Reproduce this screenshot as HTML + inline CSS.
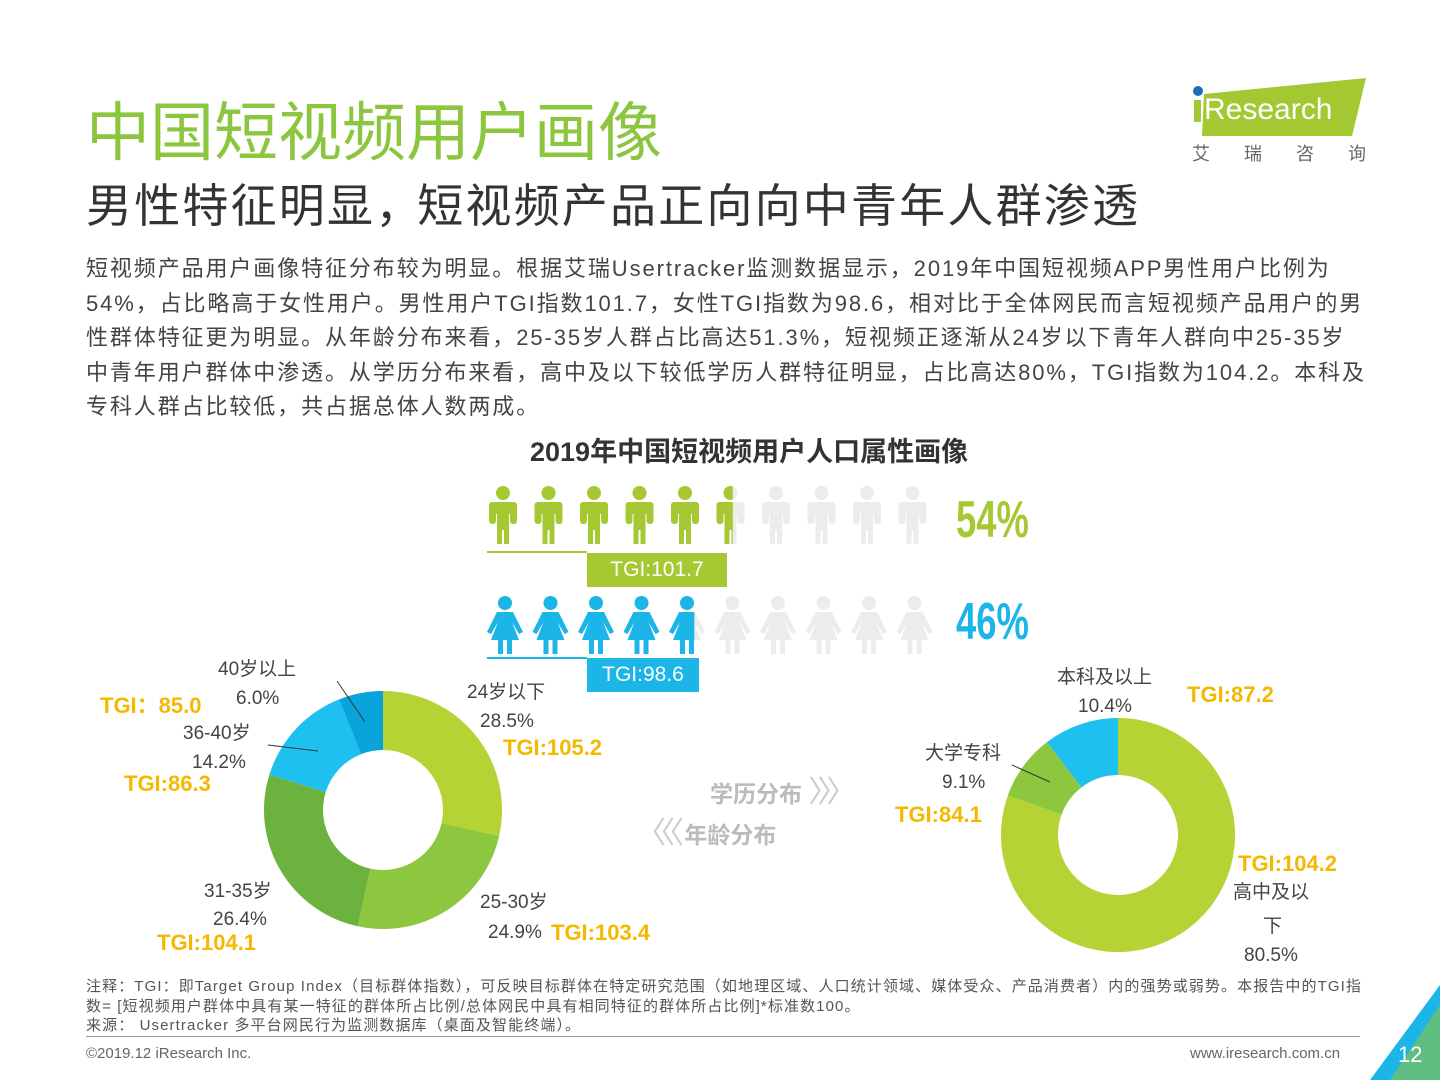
<!DOCTYPE html>
<html><head><meta charset="utf-8">
<style>
body{margin:0;width:1440px;height:1080px;background:#fff;position:relative;overflow:hidden;font-family:"Liberation Sans","Noto Sans CJK SC",sans-serif;}
.a{position:absolute;white-space:nowrap;}
.t{color:#444;font-size:19px;}
.tgi{color:#f5b800;font-weight:bold;font-size:22px;}
.dl{display:block;height:34.5px;}
</style></head><body>
<div class="a" style="left:86px;top:82px;font-size:64px;color:#8cc63f;">中国短视频用户画像</div>
<div class="a" style="left:86px;top:170px;font-size:46px;color:#333;letter-spacing:2.2px;">男性特征明显<span style="letter-spacing:-4px">，</span>短视频产品正向向中青年人群渗透</div>
<div class="a" style="left:1190px;top:76px;width:180px;height:90px;">
<svg width="180" height="90"><polygon points="14,18 176,2 162,60 12,60" fill="#a3c832"/><circle cx="8" cy="15" r="5" fill="#1a6fb5"/><rect x="4" y="24" width="7" height="22" fill="#a3c832"/><text x="14" y="43" font-size="30" fill="#fff" font-family="Liberation Sans">Research</text><text x="2" y="84" font-size="18" fill="#666" letter-spacing="34" font-family="Noto Sans CJK SC">艾瑞咨询</text></svg></div>
<div class="a" style="left:86px;top:252px;font-size:22px;line-height:34.5px;color:#444;letter-spacing:1.9px;">
<span class="dl">短视频产品用户画像特征分布较为明显。根据艾瑞Usertracker监测数据显示，2019年中国短视频APP男性用户比例为</span>
<span class="dl">54%，占比略高于女性用户。男性用户TGI指数101.7，女性TGI指数为98.6，相对比于全体网民而言短视频产品用户的男</span>
<span class="dl">性群体特征更为明显。从年龄分布来看，25-35岁人群占比高达51.3%，短视频正逐渐从24岁以下青年人群向中25-35岁</span>
<span class="dl">中青年用户群体中渗透。从学历分布来看，高中及以下较低学历人群特征明显，占比高达80%，TGI指数为104.2。本科及</span>
<span class="dl">专科人群占比较低，共占据总体人数两成。</span></div>
<div class="a" style="left:530px;top:430px;font-size:27px;font-weight:bold;color:#333;">2019年中国短视频用户人口属性画像</div>

<svg class="a" style="left:0;top:0" width="1440" height="1080" id="main">
<g id="people"></g>
<g id="donuts"></g>
</svg>

<div class="a" style="left:956px;top:490px;font-size:52px;font-weight:bold;color:#a6c832;transform:scaleX(0.7);transform-origin:left;">54%</div>
<div class="a" style="left:956px;top:592px;font-size:52px;font-weight:bold;color:#1cb5e8;transform:scaleX(0.7);transform-origin:left;">46%</div>
<div class="a" style="left:587px;top:553px;width:140px;height:34px;background:#a6c832;color:#fff;font-size:21px;text-align:center;line-height:34px;">TGI:101.7</div>
<div class="a" style="left:587px;top:658px;width:112px;height:34px;background:#1cb5e8;color:#fff;font-size:21px;text-align:center;line-height:34px;">TGI:98.6</div>
<div class="a" style="left:487px;top:551px;width:100px;height:2px;background:#a6c832"></div>
<div class="a" style="left:487px;top:657px;width:100px;height:2px;background:#1cb5e8"></div>

<div class="a t" style="left:218px;top:654px;">40岁以上</div>
<div class="a t" style="left:236px;top:688px;">6.0%</div>
<div class="a tgi" style="left:100px;top:688px;">TGI：85.0</div>
<div class="a t" style="left:183px;top:718px;">36-40岁</div>
<div class="a t" style="left:192px;top:752px;">14.2%</div>
<div class="a tgi" style="left:124px;top:771px;">TGI:86.3</div>
<div class="a t" style="left:467px;top:677px;">24岁以下</div>
<div class="a t" style="left:480px;top:711px;">28.5%</div>
<div class="a tgi" style="left:503px;top:735px;">TGI:105.2</div>
<div class="a t" style="left:204px;top:876px;">31-35岁</div>
<div class="a t" style="left:213px;top:909px;">26.4%</div>
<div class="a tgi" style="left:157px;top:930px;">TGI:104.1</div>
<div class="a t" style="left:480px;top:887px;">25-30岁</div>
<div class="a t" style="left:488px;top:922px;">24.9%</div>
<div class="a tgi" style="left:551px;top:920px;">TGI:103.4</div>

<div class="a" style="left:710px;top:767px;font-size:23px;font-weight:bold;color:#bbb;">学历分布 <span style="font-weight:normal;color:#ccc;font-size:30px;letter-spacing:-6px">〉〉〉</span></div>
<div class="a" style="left:636px;top:808px;font-size:23px;font-weight:bold;color:#bbb;"><span style="font-weight:normal;color:#ccc;font-size:30px;letter-spacing:-6px">〈〈〈</span> 年龄分布</div>

<div class="a t" style="left:1057px;top:662px;">本科及以上</div>
<div class="a t" style="left:1078px;top:696px;">10.4%</div>
<div class="a tgi" style="left:1187px;top:682px;">TGI:87.2</div>
<div class="a t" style="left:925px;top:738px;">大学专科</div>
<div class="a t" style="left:942px;top:772px;">9.1%</div>
<div class="a tgi" style="left:895px;top:802px;">TGI:84.1</div>
<div class="a tgi" style="left:1238px;top:851px;">TGI:104.2</div>
<div class="a t" style="left:1233px;top:877px;">高中及以</div>
<div class="a t" style="left:1263px;top:911px;">下</div>
<div class="a t" style="left:1244px;top:945px;">80.5%</div>

<div class="a" style="left:86px;top:977px;font-size:15px;line-height:19.5px;color:#555;letter-spacing:1.1px;">注释：TGI：即Target Group Index（目标群体指数），可反映目标群体在特定研究范围（如地理区域、人口统计领域、媒体受众、产品消费者）内的强势或弱势。本报告中的TGI指<br>数= [短视频用户群体中具有某一特征的群体所占比例/总体网民中具有相同特征的群体所占比例]*标准数100。<br>来源： Usertracker 多平台网民行为监测数据库（桌面及智能终端）。</div>
<div class="a" style="left:86px;top:1036px;width:1274px;height:1px;background:#999"></div>
<div class="a" style="left:86px;top:1045px;font-size:15px;color:#666;">©2019.12 iResearch Inc.</div>
<div class="a" style="left:1190px;top:1045px;font-size:15px;color:#666;">www.iresearch.com.cn</div>
<svg class="a" style="left:1370px;top:985px" width="70" height="95"><polygon points="70,0 70,95 0,95" fill="#1cb5e8"/><polygon points="70,20 70,95 20,95" fill="#8cc63f" opacity="0.6"/></svg>
<div class="a" style="left:1398px;top:1042px;font-size:22px;color:#fff;">12</div>

<script>
const ageCategories=["24岁以下","25-30岁","31-35岁","36-40岁","40岁以上"];
const ageValues=[28.5,24.9,26.4,14.2,6.0];
const eduCategories=["高中及以下","大学专科","本科及以上"];
const eduValues=[80.5,9.1,10.4];
const genderValues=[54,46];
const ageColors=["#b5d334","#8dc63f","#6bb33e","#1dc0ee","#0aa4dc"];
const eduColors=["#b5d334","#8dc63f","#1dc0ee"];
const NS="http://www.w3.org/2000/svg";
function arcPath(cx,cy,r0,r1,a0,a1){
  const p=(r,a)=>[cx+r*Math.sin(a),cy-r*Math.cos(a)];
  const lg=(a1-a0)>Math.PI?1:0;
  const [x1,y1]=p(r1,a0),[x2,y2]=p(r1,a1),[x3,y3]=p(r0,a1),[x4,y4]=p(r0,a0);
  return `M${x1},${y1}A${r1},${r1} 0 ${lg} 1 ${x2},${y2}L${x3},${y3}A${r0},${r0} 0 ${lg} 0 ${x4},${y4}Z`;
}
function donut(vals,cats,cols,cx,cy,r0,r1,prefix){
  const g=document.getElementById('donuts');
  const tot=vals.reduce((a,b)=>a+b,0);let a=0;
  vals.forEach((v,i)=>{
    const a1=a+v/tot*2*Math.PI;
    const path=document.createElementNS(NS,'path');
    path.setAttribute('d',arcPath(cx,cy,r0,r1,a,a1));
    path.setAttribute('fill',cols[i]);
    
    
    g.appendChild(path);a=a1;
  });
}
donut(ageValues,ageCategories,ageColors,383,810,60,119,'age');
donut(eduValues,eduCategories,eduColors,1118,835,60,117,'edu');
const lines=[[337,681,365,722],[268,745,318,751],[1012,765,1050,782]];
lines.forEach(l=>{const e=document.createElementNS(NS,'line');e.setAttribute('x1',l[0]);e.setAttribute('y1',l[1]);e.setAttribute('x2',l[2]);e.setAttribute('y2',l[3]);e.setAttribute('stroke','#333');


document.getElementById('donuts').appendChild(e);});
const pg=document.getElementById('people');
function person(x,y,female,color){
  const g=document.createElementNS(NS,'g');
  g.setAttribute('transform',`translate(${x},${y})`);
  g.setAttribute('fill',color);
  if(!female){
    g.innerHTML='<circle cx="16" cy="7" r="7"/><rect x="2" y="16" width="28" height="12" rx="5"/><rect x="2" y="16" width="7" height="22" rx="3"/><rect x="23" y="16" width="7" height="22" rx="3"/><rect x="10" y="16" width="12" height="28"/><rect x="10" y="30" width="5" height="28"/><rect x="17" y="30" width="5" height="28"/>';
  } else {
    g.innerHTML='<circle cx="20" cy="7" r="7"/><polygon points="12,16 28,16 38,36 34,38 27,26 34,44 6,44 13,26 6,38 2,36"/><rect x="13" y="44" width="5" height="14"/><rect x="22" y="44" width="5" height="14"/>';
  }
  pg.appendChild(g);return g;
}
function row(pct,y,female,color,step,x0){
  const fill=pct/10;
  for(let i=0;i<10;i++){
    const g=person(x0+i*step,y,female,'#ececec');
    
    
  }
  const cp=document.createElementNS(NS,'clipPath');cp.setAttribute('id','c'+y);
  cp.innerHTML=`<rect x="${x0}" y="${y}" width="${fill*step}" height="70"/>`;pg.appendChild(cp);
  const gg=document.createElementNS(NS,'g');gg.setAttribute('clip-path',`url(#c${y})`);
  
  
  pg.appendChild(gg);
  for(let i=0;i<10;i++){const p=person(x0+i*step,y,female,color);gg.appendChild(p);}
}
row(genderValues[0],486,false,'#a6c832',45.5,487);
row(genderValues[1],596,true,'#1cb5e8',45.5,485);
</script>
</body></html>
